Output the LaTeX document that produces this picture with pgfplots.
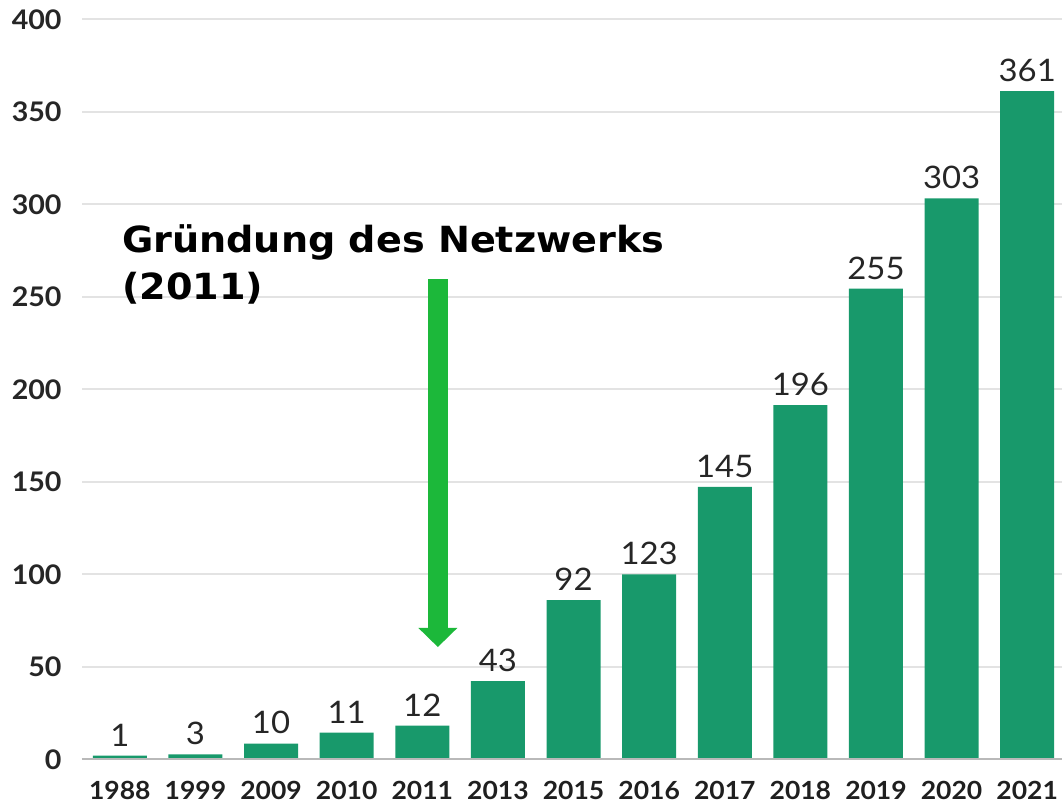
\documentclass[border=0pt]{standalone}
\usepackage{fontspec}
\setmainfont{Lato}[FakeStretch=1.06]
\newfontfamily\annot{DejaVu Sans}[FakeStretch=1.06]
\usepackage{pgfplots}
\usepackage{pgfplotstable}
\pgfplotsset{compat=1.18}
\definecolor{barGreen}{RGB}{24,153,107}
\definecolor{arrowGreen}{RGB}{28,184,58}
\pgfplotstableread{
x y label
0 2.0 1
1 2.7 3
2 8.5 10
3 14.4 11
4 18.2 12
5 42.3 43
6 86.1 92
7 100.0 123
8 147.2 145
9 191.5 196
10 254.4 255
11 303.2 303
12 361.2 361
}\data
\begin{document}
\begin{tikzpicture}
\begin{axis}[
  name=ax,
  scale only axis, width=490pt, height=370pt,
  xmin=-0.5, xmax=12.46, ymin=0, ymax=400,
  ytick={0,50,...,400},
  xtick={0,...,12},
  xticklabels={1988,1999,2009,2010,2011,2013,2015,2016,2017,2018,2019,2020,2021},
  axis line style={draw=none},
  major tick length=0pt,
  ymajorgrids, grid style={line width=0.8pt, color=gray!22},
  /pgf/number format/assume math mode=true,
  yticklabel style={font=\bfseries\fontsize{13.5}{13.5}\selectfont, text=black!85, inner sep=0pt, xshift=-10pt, anchor=east},
  xticklabel style={font=\bfseries\fontsize{12.5}{12.5}\selectfont, text=black!88, inner sep=0pt, yshift=-11pt, anchor=north},
  clip=false,
  ybar, bar width=27pt,
  nodes near coords, point meta=explicit symbolic,
  every node near coord/.append style={font=\fontsize{15.5}{15.5}\selectfont, inner sep=0pt, yshift=4.5pt, anchor=south, text=black!85},
]
\addplot[fill=barGreen, draw=none] table[x=x,y=y,meta=label]{\data};
\draw[color=gray!55, line width=1pt] (axis cs:-0.5,0) -- (axis cs:12.46,0);
\draw[arrowGreen, line width=10pt] (axis cs:4.206,259.5) -- (axis cs:4.206,70);
\fill[arrowGreen] ([xshift=-9.75pt]axis cs:4.206,71) -- ([xshift=9.75pt]axis cs:4.206,71) -- (axis cs:4.206,60.7) -- cycle;
\node[anchor=base west, inner sep=0pt, font=\annot\bfseries\fontsize{18}{18}\selectfont] at (axis cs:0.026,273.7) {Gründung des Netzwerks};
\node[anchor=base west, inner sep=0pt, font=\annot\bfseries\fontsize{18}{18}\selectfont] at (axis cs:0.026,248.3) {(2011)};
\end{axis}
\pgfresetboundingbox
\path ([xshift=-41pt,yshift=-23.35pt]ax.south west) rectangle ([yshift=9.65pt]ax.north east);
\end{tikzpicture}
\end{document}
